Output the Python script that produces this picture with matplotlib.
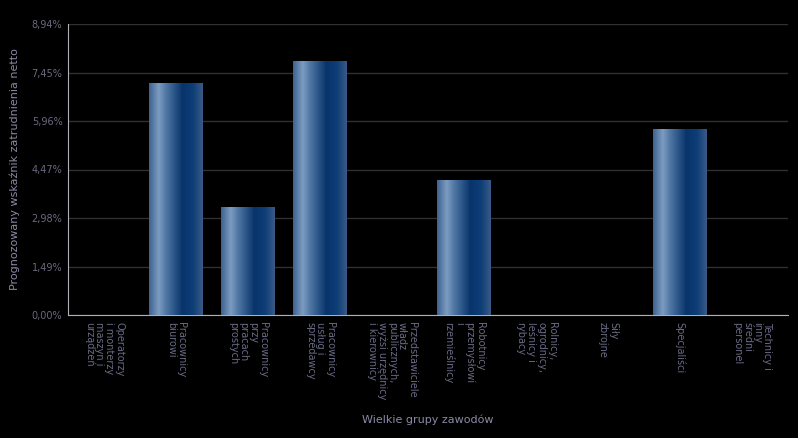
import numpy as np
import matplotlib
matplotlib.use("Agg")
import matplotlib.pyplot as plt
from matplotlib.colors import LinearSegmentedColormap

categories = [
    "Operatorzy\ni monterzy\nmaszyn i\nurządzeń",
    "Pracownicy\nbiurowi",
    "Pracownicy\nprzy\npracach\nprostych",
    "Pracownicy\nusług i\nsprzedawcy",
    "Przedstawiciele\nwładz\npublicznych,\nwyżsi urzędnicy\ni kierownicy",
    "Robotnicy\nprzemysłowi\ni\nrzemieślnicy",
    "Rolnicy,\nogrodnicy,\nleśnicy i\nrybacy",
    "Siły\nzbrojne",
    "Specjaliści",
    "Technicy i\ninny\nśredni\npersonel",
]
values = [0.0, 7.12, 3.29, 7.80, 0.0, 4.12, 0.0, 0.0, 5.69, 0.0]
yticks = [0.0, 1.49, 2.98, 4.47, 5.96, 7.45, 8.94]
ytick_labels = ["0,00%", "1,49%", "2,98%", "4,47%", "5,96%", "7,45%", "8,94%"]

fig = plt.figure(figsize=(7.98, 4.38), dpi=100, facecolor="black")
ax = fig.add_axes([68/798, (438-315)/438, 720/798, 291/438], facecolor="black")

x = np.arange(len(categories))
bars = ax.bar(x, values, width=0.75, color="none", zorder=3)

cmap = LinearSegmentedColormap.from_list("g", [
    (0.0, "#3d6290"), (0.18, "#7d9cc0"), (0.32, "#4f77a4"),
    (0.62, "#08346b"), (0.82, "#0e3e77"), (1.0, "#3b5b86")])
grad = np.linspace(0, 1, 256).reshape(1, -1)
for b in bars:
    h = b.get_height()
    if h <= 0:
        continue
    x0 = b.get_x(); w = b.get_width()
    ax.imshow(grad, cmap=cmap, aspect="auto", extent=[x0, x0 + w, 0, h],
              zorder=3, interpolation="bilinear")

ax.set_xlim(-0.5, len(categories) - 0.5)
ax.set_ylim(0, 8.94)
ax.set_yticks(yticks)
ax.set_yticklabels(ytick_labels)
ax.yaxis.grid(True, color="#303030", linewidth=1, zorder=0)
ax.set_axisbelow(True)

ax.set_xticks(x)
ax.set_xticklabels(categories, rotation=270, ha="center", va="top",
                   multialignment="left", fontsize=7, color="#6a6a86",
                   linespacing=1.0)
ax.tick_params(axis="x", length=0, pad=5)
ax.tick_params(axis="y", length=0, pad=4, labelsize=7, labelcolor="#6a6a80")

for s in ["top", "right"]:
    ax.spines[s].set_visible(False)
ax.spines["left"].set_color("#b0b0b8")
ax.spines["bottom"].set_color("#b0b0b8")

ax.set_ylabel("Prognozowany wskaźnik zatrudnienia netto", color="#8a8aa6",
              fontsize=8, labelpad=8)
fig.text(428/798, 1 - 420/438, "Wielkie grupy zawodów", color="#8a8aa6",
         fontsize=8, ha="center", va="center")

fig.savefig("out.png", dpi=100, facecolor="black")
